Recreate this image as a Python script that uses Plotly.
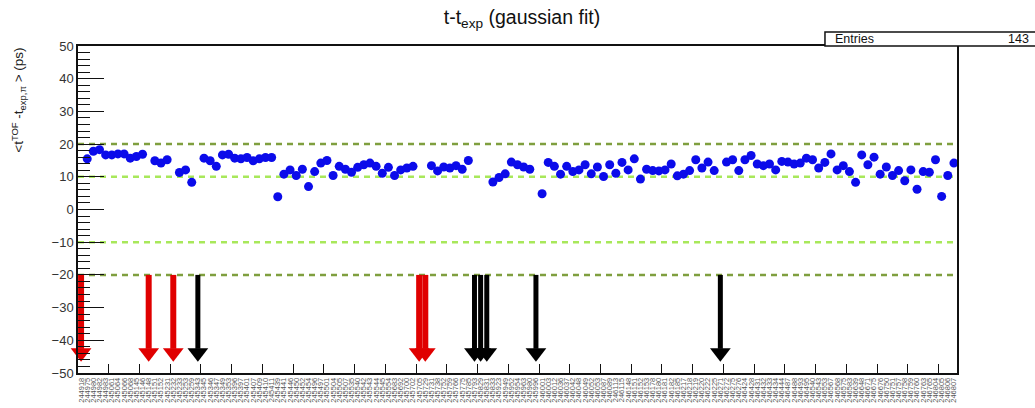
import plotly.graph_objects as go

# Run numbers, one bin per run
runs = [
    244918, 244975, 244980, 244982, 244983, 245061, 245064, 245066, 245068, 245145,
    245146, 245148, 245151, 245152, 245231, 245232, 245233, 245253, 245259, 245343,
    245345, 245346, 245347, 245349, 245353, 245396, 245397, 245401, 245407, 245409,
    245410, 245411, 245439, 245441, 245446, 245450, 245452, 245454, 245496, 245497,
    245501, 245504, 245505, 245507, 245535, 245540, 245542, 245543, 245544, 245545,
    245554, 245683, 245692, 245700, 245702, 245705, 245729, 245731, 245738, 245752,
    245759, 245766, 245775, 245785, 245793, 245829, 245831, 245833, 245923, 245949,
    245952, 245954, 245963, 245980, 245996, 246001, 246003, 246012, 246036, 246037,
    246042, 246048, 246049, 246052, 246053, 246087, 246089, 246113, 246115, 246148,
    246151, 246152, 246153, 246178, 246180, 246181, 246182, 246185, 246217, 246218,
    246219, 246220, 246222, 246225, 246271, 246272, 246275, 246276, 246424, 246428,
    246431, 246432, 246433, 246434, 246444, 246487, 246488, 246493, 246495, 246540,
    246543, 246553, 246567, 246568, 246575, 246583, 246639, 246648, 246671, 246675,
    246676, 246750, 246751, 246757, 246758, 246759, 246760, 246763, 246765, 246804,
    246805, 246806, 246807,
]

# Gaussian-fit mean of t - t_exp per run (ps); None = no fit
tof_offset = [
    None, 15.5, 17.8, 18.3, 16.7, 16.7, 17.0, 17.0, 15.7, 16.2,
    16.9, None, 14.9, 14.2, 15.2, None, 11.3, 12.1, 8.3, None,
    15.7, 14.9, 13.2, 16.7, 16.9, 15.7, 15.5, 15.9, 14.9, 15.5,
    15.9, 15.9, 3.9, 10.8, 12.1, 10.4, 12.3, 7.0, 11.6, 14.2,
    15.0, 10.4, 13.2, 12.3, 11.4, 12.9, 13.7, 14.2, 13.2, 11.1,
    12.9, 10.4, 12.1, 12.7, 13.2, None, None, 13.4, 11.8, 13.0,
    12.7, 13.4, 12.3, 15.0, None, None, None, 8.4, 9.8, 10.9,
    14.5, 13.7, 13.0, 12.3, None, 4.8, 14.4, 13.2, 10.8, 13.2,
    11.6, 12.1, 13.7, 10.9, 13.0, 10.1, 13.7, 11.1, 14.4, 12.1,
    15.5, 9.3, 12.3, 11.9, 11.8, 12.1, 13.9, 10.3, 10.8, 11.9,
    15.2, 12.7, 14.5, 11.9, None, 14.5, 15.2, 11.9, 15.2, 16.5,
    13.9, 13.4, 13.9, 12.1, 14.7, 14.5, 13.9, 14.2, 15.7, 15.2,
    12.7, 14.4, 17.0, 12.1, 13.4, 11.6, 8.3, 16.7, 13.7, 16.0,
    10.8, 13.0, 10.4, 11.9, 8.8, 12.1, 6.2, 11.6, 11.4, 15.2,
    4.0, 10.4, 14.2,
]

# Runs flagged with arrows
red_flag_bins = [0, 11, 15, 55, 56]
black_flag_bins = [19, 64, 65, 66, 74, 104]

band_outer = 20
band_inner = 10
entries = 143

n_bins = len(runs)
bins = list(range(n_bins))
labels = [str(r) for r in runs]

FONT = "Liberation Sans, Arial, Helvetica, sans-serif"
ARROW_START = -band_outer
ARROW_SHAFT_END = -42.6
ARROW_HEAD_CENTER = -43.8

fig = go.Figure()

fig.add_trace(go.Scatter(
    x=bins, y=tof_offset, mode="markers",
    marker=dict(color="#0b0bea", size=9, line=dict(width=0)),
    showlegend=False, hoverinfo="x+y",
))

for flag_bins, color, shaft_w in ((red_flag_bins, "#e00000", 6), (black_flag_bins, "#000000", 5)):
    xs, ys = [], []
    for b in flag_bins:
        xs += [b, b, None]
        ys += [ARROW_START, ARROW_SHAFT_END, None]
    fig.add_trace(go.Scatter(
        x=xs, y=ys, mode="lines", line=dict(color=color, width=shaft_w),
        showlegend=False, hoverinfo="skip",
    ))
    fig.add_trace(go.Scatter(
        x=flag_bins, y=[ARROW_HEAD_CENTER] * len(flag_bins), mode="markers",
        marker=dict(symbol="triangle-down", size=18, color=color, line=dict(width=0)),
        cliponaxis=False, showlegend=False, hoverinfo="skip",
    ))

# Reference band lines
band_lines = [
    (band_outer, "#7f9f3f"), (-band_outer, "#7f9f3f"),
    (band_inner, "#a8e85a"), (-band_inner, "#a8e85a"),
]
shapes = []
for yv, col in band_lines:
    shapes.append(dict(
        type="line", xref="paper", x0=0, x1=1, yref="y", y0=yv, y1=yv,
        line=dict(color=col, width=2.5, dash="6px,5px"), layer="below",
    ))

# Statistics box
shapes.append(dict(
    type="rect", xref="paper", yref="paper", x0=0.8498, x1=1.0944, y0=1.0, y1=1.0428,
    line=dict(color="#111111", width=1.5), fillcolor="white", layer="above",
))

edge_ticks = [k - 0.5 for k in range(5, n_bins, 5)]

fig.update_layout(
    width=1035, height=408,
    margin=dict(l=78, r=78, t=46, b=35, autoexpand=False),
    paper_bgcolor="white", plot_bgcolor="white",
    font=dict(family=FONT, color="#222222"),
    title=dict(
        text="t-t<sub>exp</sub> (gaussian fit)", x=0.5043, xanchor="center",
        y=0.958, yanchor="middle", font=dict(size=19.5, color="#111111", family=FONT),
    ),
    shapes=shapes,
    xaxis=dict(
        range=[-0.5, n_bins - 0.5], tickmode="array", tickvals=bins, ticktext=labels,
        tickangle=-90, tickfont=dict(size=7.5, color="#555555", family=FONT),
        ticks="", showgrid=False, zeroline=False, automargin=False,
        showline=True, mirror=True, linecolor="#111111", linewidth=1.5,
        minor=dict(tickmode="array", tickvals=edge_ticks, ticks="inside",
                   ticklen=9, tickwidth=1.2, tickcolor="#111111", showgrid=False),
    ),
    yaxis=dict(
        range=[-50, 50], tickmode="array", tickvals=list(range(-50, 51, 10)),
        ticks="inside", ticklen=26, tickwidth=1.2, tickcolor="#111111",
        minor=dict(dtick=2, ticks="inside", ticklen=12, tickwidth=1.2,
                   tickcolor="#111111", showgrid=False),
        tickfont=dict(size=13, color="#333333", family=FONT),
        showgrid=False, zeroline=False, automargin=False,
        showline=True, mirror=True, linecolor="#111111", linewidth=1.5,
    ),
    annotations=[
        dict(text="&lt;t<sup>TOF</sup> -t<sub>exp,π</sub> &gt; (ps)", textangle=-90,
             xref="paper", yref="paper", x=-0.068, y=1.0, xanchor="center", yanchor="top",
             showarrow=False, font=dict(size=13.5, color="#222222", family=FONT)),
        dict(text="Entries", xref="paper", yref="paper", x=0.859, y=1.0214,
             xanchor="left", yanchor="middle", showarrow=False,
             font=dict(size=12.5, color="#111111", family=FONT)),
        dict(text=str(entries), xref="paper", yref="paper", x=1.0842, y=1.0214,
             xanchor="right", yanchor="middle", showarrow=False,
             font=dict(size=12.5, color="#111111", family=FONT)),
    ],
)

fig.write_html("out.html")
